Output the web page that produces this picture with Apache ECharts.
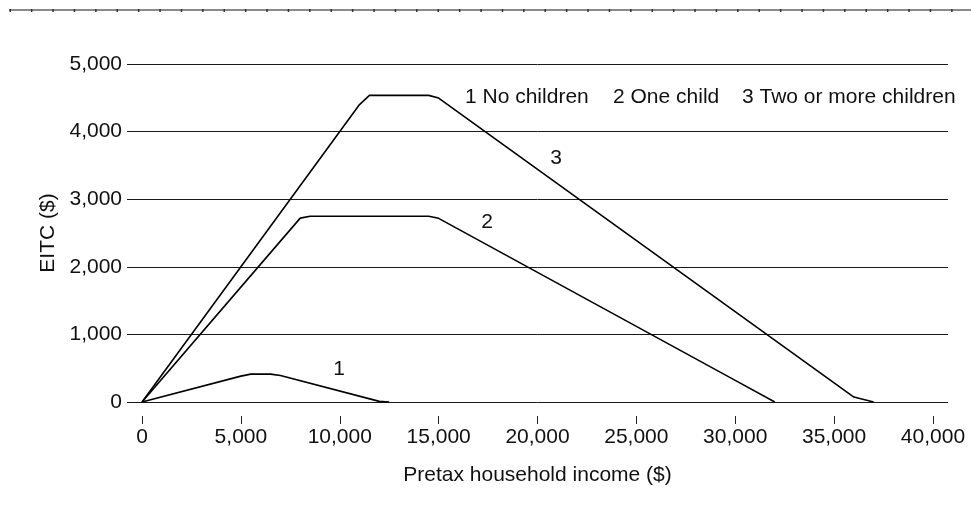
<!DOCTYPE html>
<html><head><meta charset="utf-8">
<script src="https://cdn.jsdelivr.net/npm/echarts@6/dist/echarts.min.js"></script>
<style>html,body{margin:0;padding:0;background:#fff}#c{width:971px;height:525px}</style>
</head><body><div id="c"></div>
<script>
// ---- data ----
const seriesNames = ['1 No children', '2 One child', '3 Two or more children'];
const noChildren  = [[0,0],[5000,383],[5500,412],[6500,412],[7000,392],[12000,9],[12500,0]];
const oneChild    = [[0,0],[8000,2720],[8500,2747],[14500,2747],[15000,2717],[30000,320],[32000,0]];
const twoChildren = [[0,0],[11000,4400],[11500,4536],[14500,4536],[15000,4496],[36000,73],[37000,0]];
const xTicks = [0,5000,10000,15000,20000,25000,30000,35000,40000];
const yTicks = [0,1000,2000,3000,4000,5000];
const curveTags = ['1','2','3'];
const curveTagAt = [[9960,480],[17450,2660],[20940,3610]];
const xTitle = 'Pretax household income ($)';
const yTitle = 'EITC ($)';

// ---- chart ----
const FONT = 'Liberation Sans, Arial, Helvetica, sans-serif';
const FS = 21;
const fmt = v => String(v).replace(/\B(?=(\d{3})+(?!\d))/g, ',');
const chart = echarts.init(document.getElementById('c'), null, {renderer: 'canvas'});
const seriesData = [noChildren, oneChild, twoChildren];
const legendX = [465, 613, 742];

chart.setOption({
  animation: false,
  backgroundColor: '#fff',
  textStyle: {fontFamily: FONT},
  grid: {left: 127, right: 23, top: 64, bottom: 123, containLabel: false},
  xAxis: [{
    type: 'value', min: -760, max: 40760, gridIndex: 0,
    axisLine: {show: false}, axisTick: {show: false}, axisLabel: {show: false},
    splitLine: {show: false},
    name: xTitle, nameLocation: 'middle', nameGap: 63,
    nameTextStyle: {fontSize: FS, color: '#111', fontFamily: FONT}
  }, {
    type: 'value', min: -760, max: 40760, gridIndex: 0, position: 'bottom', offset: 14,
    axisLine: {show: false},
    axisTick: {show: true, customValues: xTicks, length: 8, inside: false,
               lineStyle: {color: '#222', width: 1}},
    axisLabel: {show: true, customValues: xTicks, formatter: v => fmt(v), margin: 11,
                fontSize: FS, color: '#111', fontFamily: FONT},
    splitLine: {show: false}
  }],
  yAxis: {
    type: 'value', min: 0, max: 5000, interval: 1000,
    axisLine: {show: false}, axisTick: {show: false},
    axisLabel: {formatter: v => fmt(v), margin: 5, fontSize: FS, color: '#111', fontFamily: FONT},
    splitLine: {show: true, lineStyle: {color: '#1a1a1a', width: 1}},
    name: yTitle, nameLocation: 'middle', nameGap: 66, nameRotate: 90,
    nameTextStyle: {fontSize: FS, color: '#111', fontFamily: FONT}
  },
  series: seriesData.map((d, i) => ({
    type: 'line', name: seriesNames[i], data: d, xAxisIndex: 0,
    showSymbol: false, symbol: 'none', smooth: false,
    lineStyle: {color: '#000', width: 1.6},
    markPoint: {
      symbol: 'circle', symbolSize: 0, silent: true,
      label: {show: true, position: 'inside', formatter: curveTags[i],
              fontSize: FS, color: '#111', fontFamily: FONT},
      data: [{coord: curveTagAt[i]}]
    }
  })),
  graphic: [
    {type: 'line', silent: true, shape: {x1: 9, y1: 10, x2: 971, y2: 10},
     style: {stroke: '#8a8a8a', lineWidth: 2}},
    {type: 'line', silent: true, shape: {x1: 9, y1: 10.5, x2: 971, y2: 10.5},
     style: {stroke: '#333', lineWidth: 3, lineDash: [1.5, 19.9], lineDashOffset: 20.9}}
  ].concat(seriesNames.map((t, i) => ({
    type: 'text', left: legendX[i], top: 87, silent: true,
    style: {text: t, font: FS + 'px ' + FONT, fill: '#111'}
  })))
});
</script>
</body></html>
